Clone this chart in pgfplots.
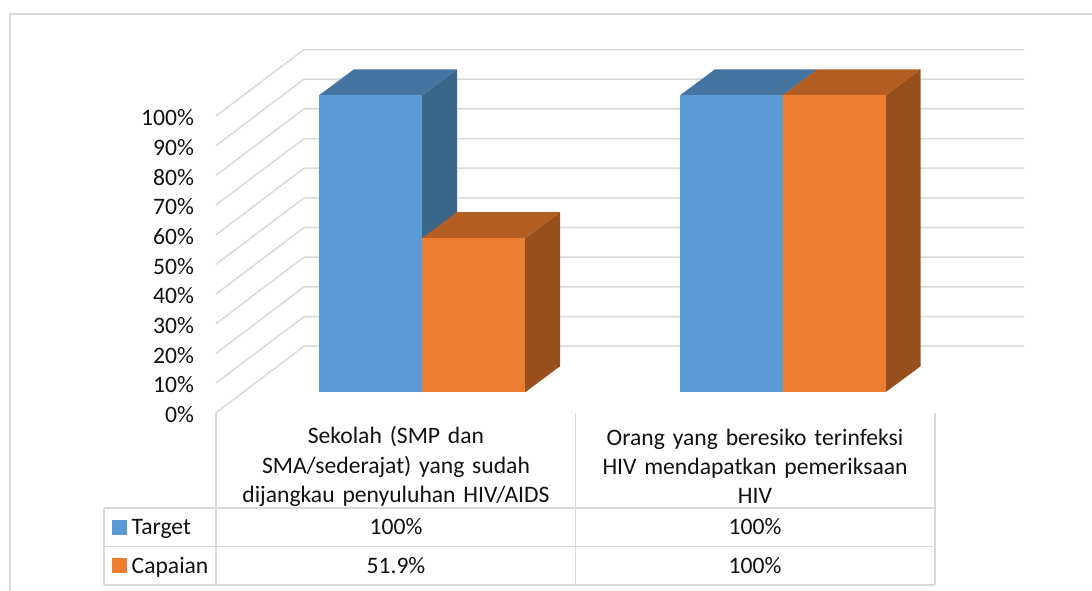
\documentclass[border=0pt]{standalone}
\usepackage{pgfplots}
\usepackage{fontspec}
\setmainfont{Carlito}
\pgfplotsset{compat=1.18}
\definecolor{gridc}{HTML}{D9D9D9}
\definecolor{blueF}{HTML}{5B9BD5}
\definecolor{blueT}{HTML}{44749F}
\definecolor{blueS}{HTML}{3A6689}
\definecolor{orangeF}{HTML}{ED7D31}
\definecolor{orangeT}{HTML}{B25D21}
\definecolor{orangeS}{HTML}{97501C}
\definecolor{txt}{HTML}{111111}
\tikzset{gl/.style={draw=gridc, line width=1.5pt, mark=none}}
\begin{document}
\begin{tikzpicture}[x=1pt,y=1pt]
\useasboundingbox (0,0) rectangle (1092,591);
\fontsize{23.6}{29.3}\selectfont
% frame, data table and legend keys: x and y in image pixels
\begin{axis}[
    at={(0pt,0pt)}, anchor=south west,
    scale only axis, width=1092pt, height=591pt,
    xmin=0, xmax=1092, ymin=0, ymax=591, y dir=reverse,
    hide axis, clip=false,
]
\addplot[gl] coordinates {(10,591) (10,14) (1092,14)};
\addplot[gl] coordinates {(104,508) (935,508)};
\addplot[gl] coordinates {(104,546.7) (935,546.7)};
\addplot[gl] coordinates {(104,585) (935,585)};
\addplot[gl] coordinates {(104,508) (104,585)};
\addplot[gl] coordinates {(216,413) (216,585)};
\addplot[gl] coordinates {(575.5,413) (575.5,585)};
\addplot[gl] coordinates {(935,413) (935,585)};
\addplot[only marks, mark=square*, mark size=7pt, mark options={solid, line width=0pt, draw=blueF, fill=blueF}] coordinates {(119,527)};
\addplot[only marks, mark=square*, mark size=7pt, mark options={solid, line width=0pt, draw=orangeF, fill=orangeF}] coordinates {(119,565)};
\node[txt, align=center, text width=340pt] at (axis cs:396,466.5) {Sekolah (SMP dan\\SMA/sederajat) yang sudah\\dijangkau penyuluhan HIV/AIDS};
\node[txt, align=center, text width=340pt] at (axis cs:755,466.5) {Orang yang beresiko terinfeksi\\HIV mendapatkan pemeriksaan\\HIV};
\node[txt, anchor=base west, inner sep=0pt] at (axis cs:131.5,534) {Target};
\node[txt, anchor=base west, inner sep=0pt] at (axis cs:131.5,573) {Capaian};
\node[txt] at (axis cs:396,527) {100\%};
\node[txt] at (axis cs:396,566) {51.9\%};
\node[txt] at (axis cs:755,527) {100\%};
\node[txt] at (axis cs:755,566) {100\%};
\end{axis}
% walls: gridlines and percent ticks
\begin{axis}[
    at={(216pt,178.3pt)}, anchor=south west,
    scale only axis, width=808pt, height=296.7pt,
    xmin=216, xmax=1024, ymin=0, ymax=100,
    clip=false, axis line style={draw=none}, tick style={draw=none},
    xtick=\empty, ytick={0,10,...,100},
    yticklabel={\pgfmathprintnumber{\tick}\%},
    yticklabel style={text=txt, anchor=east, xshift=-14pt, yshift=-2pt},
    /pgf/number format/assume math mode=true,
]
\addplot[gl] coordinates {(216,0) (304,22.4) (1024,22.4)};
\addplot[gl] coordinates {(216,10) (304,32.4) (1024,32.4)};
\addplot[gl] coordinates {(216,20) (304,42.4) (1024,42.4)};
\addplot[gl] coordinates {(216,30) (304,52.4) (1024,52.4)};
\addplot[gl] coordinates {(216,40) (304,62.4) (1024,62.4)};
\addplot[gl] coordinates {(216,50) (304,72.4) (1024,72.4)};
\addplot[gl] coordinates {(216,60) (304,82.4) (1024,82.4)};
\addplot[gl] coordinates {(216,70) (304,92.4) (1024,92.4)};
\addplot[gl] coordinates {(216,80) (304,102.4) (1024,102.4)};
\addplot[gl] coordinates {(216,90) (304,112.4) (1024,112.4)};
\addplot[gl] coordinates {(216,100) (304,122.4) (1024,122.4)};
\end{axis}
% bars: front faces are real bars, side and top faces are offset by the depth
\begin{axis}[
    at={(216pt,198.7pt)}, anchor=south west,
    scale only axis, width=808pt, height=297pt,
    xmin=216, xmax=1024, ymin=0, ymax=100,
    hide axis, clip=false,
]
% Target, group 1
\addplot[fill=blueS, draw=none] coordinates {(422,0) (457,8.75) (457,108.75) (422,100)} --cycle;
\addplot[fill=blueT, draw=none] coordinates {(319,100) (354,108.75) (457,108.75) (422,100)} --cycle;
\addplot[ybar, bar width=103pt, bar shift=0pt, fill=blueF, draw=none] coordinates {(370.5,100)};
% Capaian, group 1
\addplot[fill=orangeS, draw=none] coordinates {(525,0) (560,8.75) (560,60.65) (525,51.9)} --cycle;
\addplot[fill=orangeT, draw=none] coordinates {(422,51.9) (457,60.65) (560,60.65) (525,51.9)} --cycle;
\addplot[ybar, bar width=103pt, bar shift=0pt, fill=orangeF, draw=none] coordinates {(473.5,51.9)};
% Target, group 2
\addplot[fill=blueT, draw=none] coordinates {(680,100) (715,108.75) (817.7,108.75) (782.7,100)} --cycle;
\addplot[ybar, bar width=102.7pt, bar shift=0pt, fill=blueF, draw=none] coordinates {(731.35,100)};
% Capaian, group 2
\addplot[fill=orangeS, draw=none] coordinates {(885.5,0) (920.5,8.75) (920.5,108.75) (885.5,100)} --cycle;
\addplot[fill=orangeT, draw=none] coordinates {(782.7,100) (817.7,108.75) (920.5,108.75) (885.5,100)} --cycle;
\addplot[ybar, bar width=102.8pt, bar shift=0pt, fill=orangeF, draw=none] coordinates {(834.1,100)};
\end{axis}
\end{tikzpicture}
\end{document}
